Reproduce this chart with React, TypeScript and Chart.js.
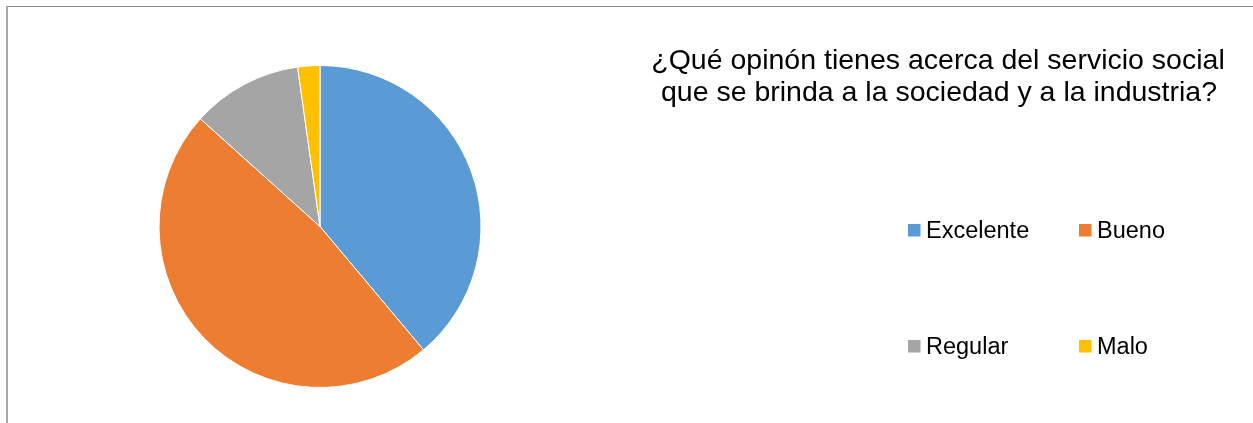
import React, { useEffect, useRef } from "react";
import { Chart, registerables } from "chart.js";

Chart.register(...registerables);

const categories = ["Excelente", "Bueno", "Regular", "Malo"];
const values = [35, 43, 10, 2];
const colors = ["#5B9BD5", "#ED7D31", "#A5A5A5", "#FFC000"];
const titleLines = [
  "¿Qué opinón tienes acerca del servicio social",
  "que se brinda a la sociedad y a la industria?",
];

const W = 1253;
const H = 423;

const framePlugin = {
  id: "frame",
  beforeDraw(chart: any) {
    const ctx = chart.ctx;
    ctx.save();
    ctx.fillStyle = "#ffffff";
    ctx.fillRect(0, 0, W, H);
    ctx.fillStyle = "#898989";
    ctx.fillRect(6, 6, W - 6, 1);
    ctx.fillStyle = "#a8a8a8";
    ctx.fillRect(6, 6, 2, H - 6);
    ctx.restore();
  },
};

const textPlugin = {
  id: "texts",
  afterDraw(chart: any) {
    const ctx = chart.ctx;
    ctx.save();
    // Title
    ctx.fillStyle = "#000000";
    ctx.font = '28.5px "Liberation Sans", Arial, sans-serif';
    ctx.textAlign = "center";
    ctx.textBaseline = "alphabetic";
    ctx.fillText(titleLines[0], 938, 69);
    ctx.fillText(titleLines[1], 939, 101);

    // Legend (2 x 2 grid)
    const labels = chart.data.labels as string[];
    const bg = chart.data.datasets[0].backgroundColor as string[];
    const colX = [908, 1079];
    const rowY = [224, 340];
    ctx.font = '23.5px "Liberation Sans", Arial, sans-serif';
    ctx.textAlign = "left";
    labels.forEach((lab, i) => {
      const cx = colX[i % 2];
      const ry = rowY[Math.floor(i / 2)];
      ctx.fillStyle = bg[i];
      ctx.fillRect(cx, ry, 12.5, 12.5);
      ctx.fillStyle = "#000000";
      ctx.fillText(lab, cx + 18, ry + 13.5);
    });
    ctx.restore();
  },
};

export default function App() {
  const ref = useRef<HTMLCanvasElement | null>(null);

  useEffect(() => {
    if (!ref.current) return;
    const chart = new Chart(ref.current, {
      type: "pie",
      data: {
        labels: categories,
        datasets: [
          {
            data: values,
            backgroundColor: colors,
            borderColor: "#ffffff",
            borderWidth: 1,
          },
        ],
      },
      options: {
        responsive: false,
        animation: false,
        devicePixelRatio: 1,
        layout: {
          padding: { left: 158, top: 65, right: W - 482, bottom: H - 388 },
        },
        plugins: {
          legend: { display: false },
          tooltip: { enabled: false },
          title: { display: false },
        },
      },
      plugins: [framePlugin, textPlugin],
    });
    return () => chart.destroy();
  }, []);

  return (
    <div
      style={{
        position: "fixed",
        left: 0,
        top: 0,
        width: W,
        height: H,
        background: "#ffffff",
      }}
    >
      <canvas ref={ref} width={W} height={H} style={{ width: W, height: H, display: "block" }} />
    </div>
  );
}
